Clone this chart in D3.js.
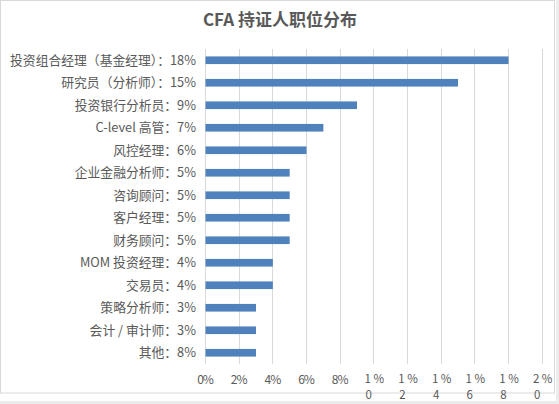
<!DOCTYPE html>
<html>
<head>
<meta charset="utf-8">
<script src="https://cdn.jsdelivr.net/npm/d3@7"></script>
<style>
  body { margin: 0; background: #fff; }
  svg { display: block; }
  text { font-family: "Noto Sans CJK SC", "Noto Sans", sans-serif; fill: #595959; }
</style>
</head>
<body>
<div id="chart"></div>
<script>
// 数据：类别标签（含百分比文字）和条形长度
var labels = [
  '投资组合经理（基金经理）：18%',
  '研究员（分析师）：15%',
  '投资银行分析员：9%',
  'C-level 高管：7%',
  '风控经理：6%',
  '企业金融分析师：5%',
  '咨询顾问：5%',
  '客户经理：5%',
  '财务顾问：5%',
  'MOM 投资经理：4%',
  '交易员：4%',
  '策略分析师：3%',
  '会计 / 审计师：3%',
  '其他：8%'
];
// 原图里“其他”那根条画的是 3%
var values = [0.18, 0.15, 0.09, 0.07, 0.06, 0.05, 0.05, 0.05, 0.05, 0.04, 0.04, 0.03, 0.03, 0.03];
var xTicks = [0, 0.02, 0.04, 0.06, 0.08, 0.10, 0.12, 0.14, 0.16, 0.18, 0.20];
var title = 'CFA 持证人职位分布';

var W = 559, H = 404;
var svg = d3.select('#chart').append('svg')
  .attr('width', W)
  .attr('height', H);

// 外面的灰边
svg.append('rect').attr('x', 0).attr('y', 0).attr('width', W).attr('height', H).attr('fill', '#ececec');
svg.append('rect').attr('x', 0).attr('y', 0).attr('width', 556).attr('height', 401).attr('fill', '#fff');
// 图表边框
svg.append('rect')
  .attr('x', 0.5).attr('y', 0.5)
  .attr('width', 554).attr('height', 392.5)
  .attr('fill', '#fff')
  .attr('stroke', '#d9d9d9');

var xScale = d3.scaleLinear()
  .domain([0, 0.2])
  .range([205, 541.7]);

var yScale = d3.scaleBand()
  .domain(labels)
  .range([49, 364])
  .paddingInner(0.66)
  .paddingOuter(0.33);

// 标题
svg.append('text')
  .attr('x', 280)
  .attr('y', 26)
  .attr('text-anchor', 'middle')
  .style('font-size', '17px')
  .style('font-weight', 'bold')
  .text(title);

// 竖网格线
svg.append('g').selectAll('line')
  .data(xTicks)
  .enter()
  .append('line')
  .attr('x1', function(d){ return Math.round(xScale(d)) + 0.5; })
  .attr('x2', function(d){ return Math.round(xScale(d)) + 0.5; })
  .attr('y1', 49)
  .attr('y2', 364)
  .attr('stroke', '#d9d9d9');

// 条形
svg.append('g').selectAll('rect')
  .data(values)
  .enter()
  .append('rect')
  .attr('x', xScale(0) + 0.5)
  .attr('y', function(d, i){ return yScale(labels[i]); })
  .attr('width', function(d){ return xScale(d) - xScale(0); })
  .attr('height', yScale.bandwidth())
  .attr('fill', '#4f81bd');

// 左边类别文字
svg.append('g').selectAll('text')
  .data(labels)
  .enter()
  .append('text')
  .attr('x', 196)
  .attr('y', function(d){ return yScale(d) + yScale.bandwidth() / 2; })
  .attr('dy', '0.35em')
  .attr('text-anchor', 'end')
  .style('font-size', '12.8px')
  .text(function(d){ return d; });

// x 轴刻度文字；两位数的被挤成两行
var tickG = svg.append('g');
xTicks.forEach(function(t){
  var s = Math.round(t * 100) + '%';
  var cx = xScale(t);
  if (s.length <= 2) {
    tickG.append('text')
      .attr('x', cx)
      .attr('y', 384)
      .attr('text-anchor', 'middle')
      .style('font-size', '12px')
      .style('letter-spacing', '-1px')
      .text(s);
  } else {
    var first = tickG.append('text')
      .attr('x', cx + 1)
      .attr('y', 383)
      .attr('text-anchor', 'middle')
      .style('font-size', '11.5px')
      .text(s.charAt(0) + ' %');
    var w = first.node().getComputedTextLength();
    tickG.append('text')
      .attr('x', cx + 1 - w / 2 + 1)
      .attr('y', 399)
      .attr('text-anchor', 'start')
      .style('font-size', '11.5px')
      .text(s.charAt(1));
  }
});
</script>
</body>
</html>
